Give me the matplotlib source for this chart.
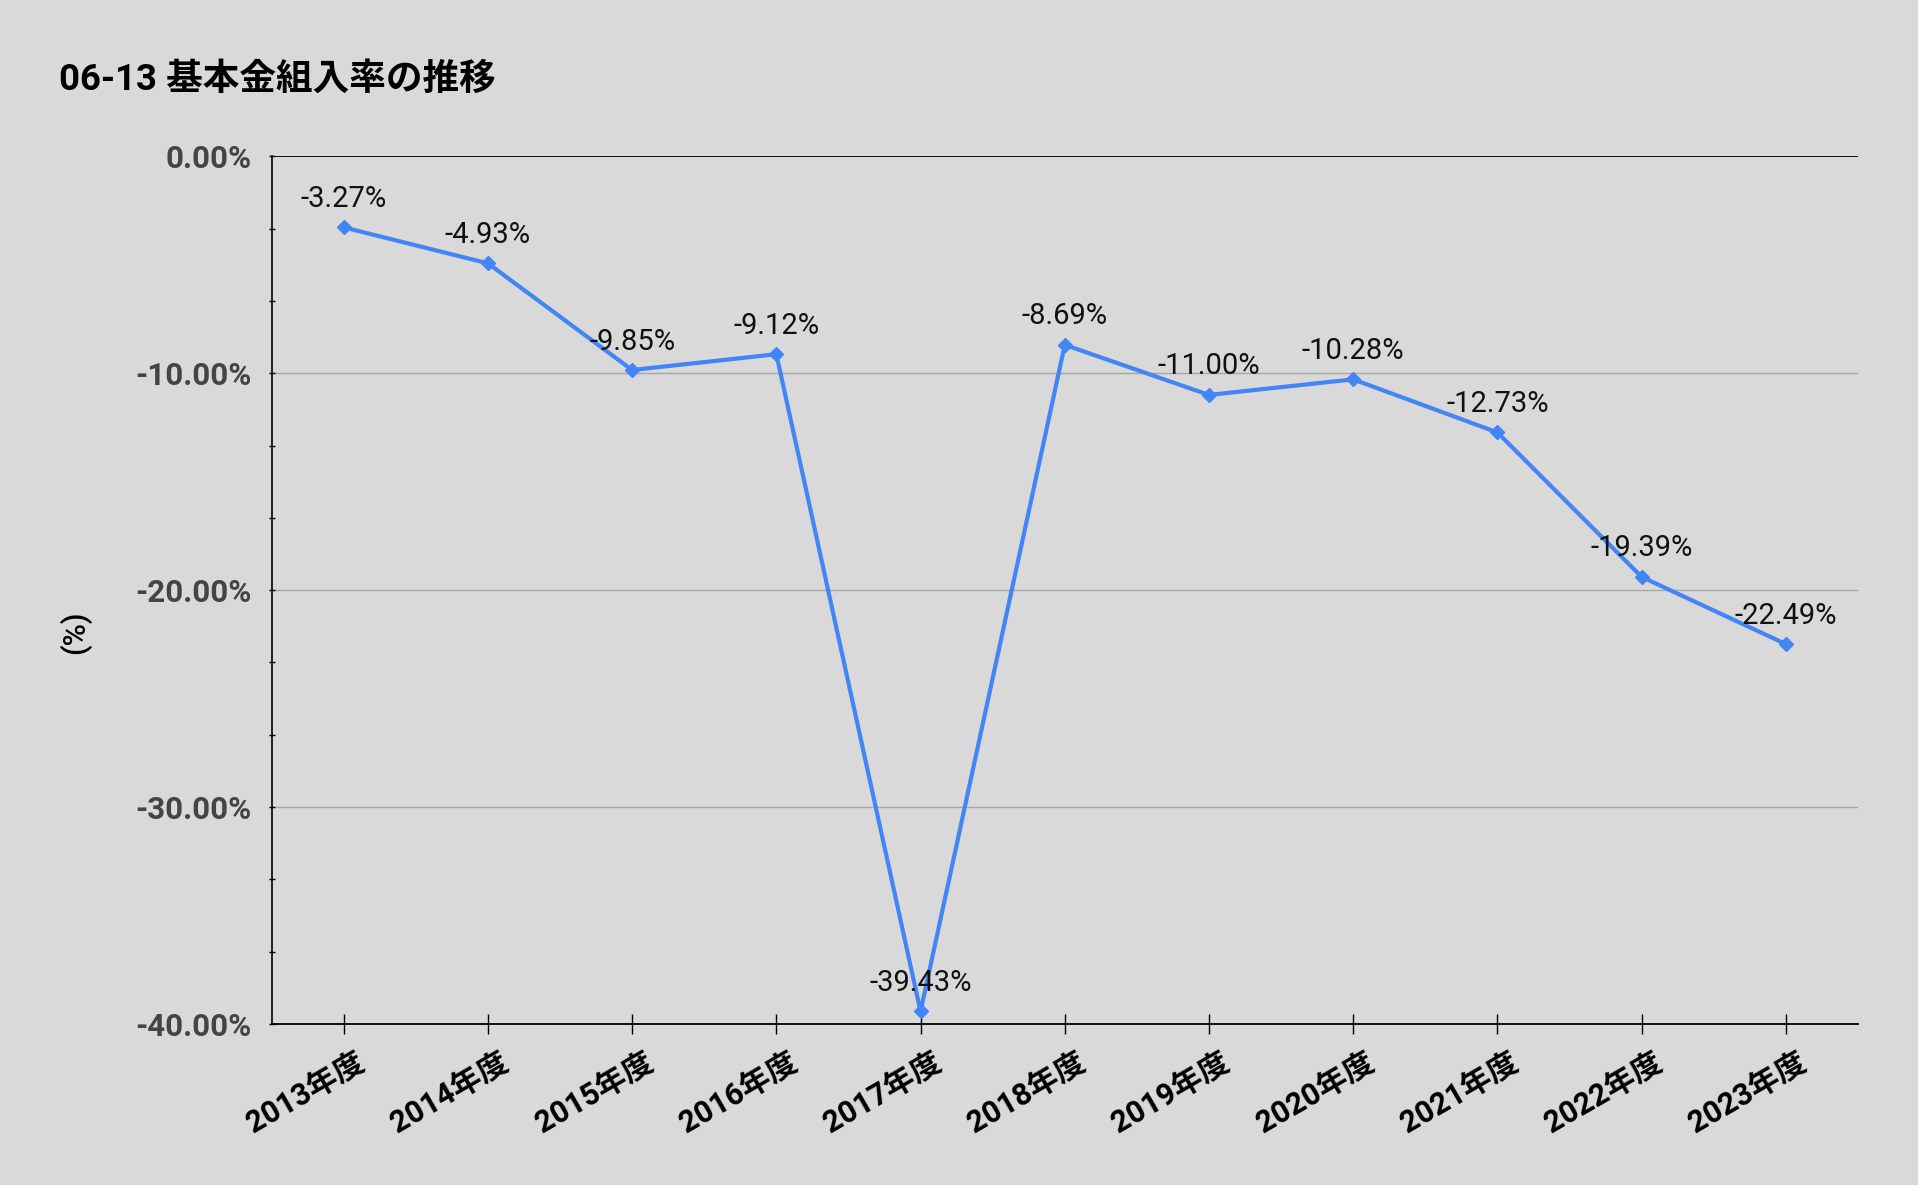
import matplotlib.pyplot as plt
import matplotlib.transforms as mtransforms
import numpy as np
from matplotlib.ticker import MultipleLocator, FuncFormatter

plt.rcParams['font.family'] = ['Roboto', 'Noto Sans CJK JP', 'DejaVu Sans']

years = ['2013年度', '2014年度', '2015年度', '2016年度', '2017年度', '2018年度',
         '2019年度', '2020年度', '2021年度', '2022年度', '2023年度']
rates = [-3.27, -4.93, -9.85, -9.12, -39.43, -8.69, -11.00, -10.28, -12.73, -19.39, -22.49]

bg = '#d9d9d9'
fig = plt.figure(figsize=(19.18, 11.85), dpi=100, facecolor=bg)
ax = fig.add_axes([0.1416, 0.136, 0.9687 - 0.1416, 0.868 - 0.136], facecolor=bg)

x = np.arange(len(years))
ax.plot(x, rates, color='#4285f4', linewidth=3, marker='D', markersize=7.5, zorder=3)

for xi, v in zip(x, rates):
    ax.annotate(f'{v:.2f}%', (xi, v), xytext=(0, 20.5), textcoords='offset points',
                ha='center', va='center', fontsize=21, color='#111111', zorder=4)

ax.set_xlim(-0.5, len(years) - 0.5)
ax.set_ylim(-40, 0)
ax.yaxis.set_major_locator(MultipleLocator(10))
ax.yaxis.set_minor_locator(MultipleLocator(10 / 3))
ax.yaxis.set_major_formatter(FuncFormatter(lambda v, p: f'{v:.2f}%'))
ax.set_xticks(x)
ax.set_xticklabels([])
# category labels drawn by hand so they can sit a bit right of the tick
shift = mtransforms.ScaledTranslation(8 / 72, -17 / 72, fig.dpi_scale_trans)
for xi, lab in zip(x, years):
    ax.text(xi, 0, lab, transform=ax.get_xaxis_transform() + shift,
            rotation=30, rotation_mode='anchor', ha='right', va='top',
            fontsize=22, fontweight='bold', color='black')
for lab in ax.get_yticklabels():
    lab.set_fontsize(22.5)
    lab.set_fontweight('bold')
    lab.set_color('#444444')

ax.tick_params(axis='y', which='both', direction='inout', length=5, width=1, color='black', pad=12)
ax.tick_params(axis='x', direction='inout', length=14, width=1, color='black', pad=8)

for g in [-10, -20, -30]:
    ax.axhline(g, color='#a6a6a6', linewidth=1, zorder=1)
ax.axhline(0, color='black', linewidth=1.3, zorder=2)

for s in ['top', 'right']:
    ax.spines[s].set_visible(False)
ax.spines['left'].set_linewidth(1.2)
ax.spines['bottom'].set_linewidth(1.3)

ax.set_ylabel('(%)', fontsize=22, fontweight='medium')
ax.yaxis.set_label_coords(-0.114, 0.451)

fig.text(0.0306, 0.933, '06-13 基本金組入率の推移', fontsize=26.4, fontweight='bold',
         ha='left', va='center', color='black')

fig.savefig('out.png', dpi=100, facecolor=bg)
